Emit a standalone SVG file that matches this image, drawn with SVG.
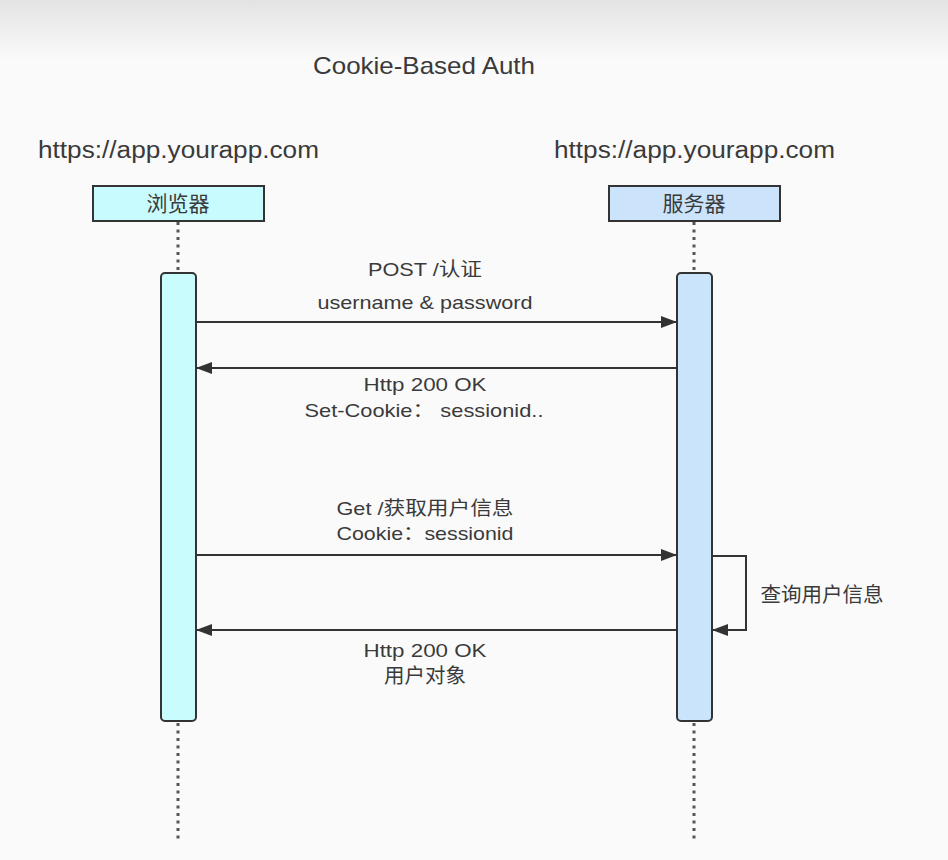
<svg xmlns="http://www.w3.org/2000/svg" width="948" height="860" viewBox="0 0 948 860">
  <defs>
    <linearGradient id="bg" x1="0" y1="0" x2="0" y2="1">
      <stop offset="0" stop-color="#e3e3e3"/>
      <stop offset="1" stop-color="#fafafa"/>
    </linearGradient>
    <marker id="arr" markerWidth="16" markerHeight="12" refX="15" refY="6" orient="auto" markerUnits="userSpaceOnUse">
      <path d="M0,0 L16,6 L0,12 Z" fill="#333"/>
    </marker>
  </defs>
  <style>
    text { font-family: "Liberation Sans", "Noto Sans CJK SC", sans-serif; fill: #3a3a3a; }
    .t { font-size: 24px; }
    .url { font-size: 23px; }
    .lbl { font-size: 19px; text-anchor: middle; }
    .cjk { font-size: 20.5px; text-anchor: middle; }
    .hdr { font-size: 21px; text-anchor: middle; }
    .head { stroke: #333; stroke-width: 2; }
    .life { stroke: #555; stroke-width: 3; stroke-dasharray: 3 4.5; fill: none; }
    .msg { stroke: #333; stroke-width: 2; fill: none; marker-end: url(#arr); }
    .act { stroke: #333; stroke-width: 2; }
  </style>
  <rect x="0" y="0" width="948" height="860" fill="#fafafa"/>
  <rect x="0" y="0" width="948" height="60" fill="url(#bg)"/>

  <text class="t" x="313" y="74" textLength="222" lengthAdjust="spacingAndGlyphs">Cookie-Based Auth</text>
  <text class="url" x="38" y="158" textLength="281" lengthAdjust="spacingAndGlyphs">https://app.yourapp.com</text>
  <text class="url" x="554" y="158" textLength="281" lengthAdjust="spacingAndGlyphs">https://app.yourapp.com</text>

  <g id="lifelines">
    <line class="life" x1="178" y1="222" x2="178" y2="272"/>
    <line class="life" x1="178" y1="723" x2="178" y2="840"/>
    <line class="life" x1="694" y1="222" x2="694" y2="272"/>
    <line class="life" x1="694" y1="723" x2="694" y2="840"/>
  </g>

  <g id="browser">
    <rect class="head" x="93" y="186" width="171" height="35" fill="#c8fbfd"/>
    <text class="hdr" x="178" y="211">浏览器</text>
    <rect class="act" x="161" y="273" width="35" height="448" rx="4" fill="#c8fcfd"/>
  </g>

  <g id="server">
    <rect class="head" x="609" y="186" width="171" height="35" fill="#cbe4fb"/>
    <text class="hdr" x="694" y="211">服务器</text>
    <rect class="act" x="677" y="273" width="35" height="448" rx="4" fill="#c9e4fb"/>
  </g>

  <g id="connectors">
    <line class="msg" x1="197" y1="322" x2="676" y2="322"/>
    <line class="msg" x1="676" y1="368" x2="197" y2="368"/>
    <line class="msg" x1="197" y1="555" x2="676" y2="555"/>
    <path class="msg" d="M713,556 L746,556 L746,630 L713,630"/>
    <line class="msg" x1="676" y1="630" x2="197" y2="630"/>
  </g>

  <g id="labels">
    <text class="lbl" x="425" y="276" textLength="114" lengthAdjust="spacingAndGlyphs">POST /认证</text>
    <text class="lbl" x="425" y="309" textLength="215" lengthAdjust="spacingAndGlyphs">username &amp; password</text>
    <text class="lbl" x="425" y="391" textLength="123" lengthAdjust="spacingAndGlyphs">Http 200 OK</text>
    <text class="lbl" x="424" y="417" textLength="239" lengthAdjust="spacingAndGlyphs">Set-Cookie：  sessionid..</text>
    <text class="lbl" x="425" y="515" textLength="177" lengthAdjust="spacingAndGlyphs">Get /获取用户信息</text>
    <text class="lbl" x="425" y="540" textLength="177" lengthAdjust="spacingAndGlyphs">Cookie：sessionid</text>
    <text class="cjk" x="822" y="602">查询用户信息</text>
    <text class="lbl" x="425" y="657" textLength="123" lengthAdjust="spacingAndGlyphs">Http 200 OK</text>
    <text class="cjk" x="425" y="683">用户对象</text>
  </g>
</svg>
